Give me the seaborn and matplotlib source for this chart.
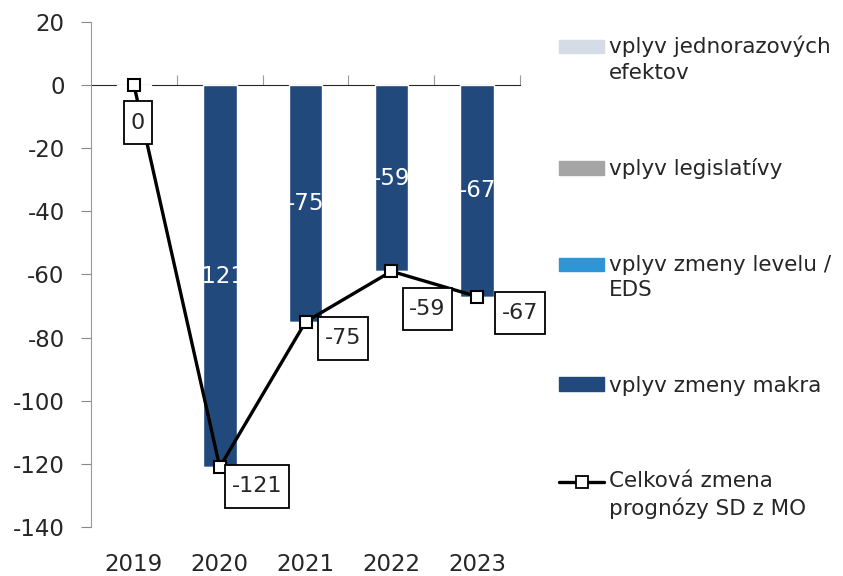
import numpy as np
import matplotlib.pyplot as plt
import seaborn as sns
from matplotlib.patches import Patch
from matplotlib.lines import Line2D
from matplotlib.path import Path
from matplotlib.legend_handler import HandlerPatch, HandlerLine2D

roky = ["2019", "2020", "2021", "2022", "2023"]
makro = [-0.2, -121, -75, -59, -67]
level_eds = [0, -0.4, -0.4, -0.3, -0.4]
legislativa = [0, 0, 0, 0, 0]
jednorazove = [0, 0, 0, 0, 0]
celkova_zmena = [0, -121, -75, -59, -67]

farby = {
    "jednorazove": "#D6DCE5",
    "legislativa": "#A5A5A5",
    "level": "#2E96D6",
    "makro": "#21497C",
}

# posuny popisov celkovej zmeny (v bodoch)
posuny = [(3, -27), (27, -14), (27, -12), (26, -27), (31, -12)]


def ramcek(x0, y0, width, height, mutation_size):
    """Obdlznik s vacsim zvislym okrajom ako vodorovnym."""
    px = 0.3 * mutation_size
    py = 0.5 * mutation_size
    x0, y0 = x0 - px, y0 - py
    x1, y1 = x0 + width + 2 * px, y0 + height + 2 * py
    return Path([(x0, y0), (x1, y0), (x1, y1), (x0, y1), (x0, y0)],
                closed=True)


class PatchHore(HandlerPatch):
    """Znacka legendy zarovnana na prvy riadok popisu."""
    def __init__(self, posun=0.0, **kw):
        super().__init__(**kw)
        self.posun = posun

    def create_artists(self, legend, orig_handle, xdescent, ydescent,
                       width, height, fontsize, trans):
        arts = super().create_artists(legend, orig_handle, xdescent, ydescent,
                                       width, height, fontsize, trans)
        for a in arts:
            a.set_y(a.get_y() + self.posun * fontsize)
        return arts


class CiaraHore(HandlerLine2D):
    def __init__(self, posun=0.0, **kw):
        super().__init__(**kw)
        self.posun = posun

    def create_artists(self, legend, orig_handle, xdescent, ydescent,
                       width, height, fontsize, trans):
        arts = super().create_artists(legend, orig_handle, xdescent, ydescent,
                                      width, height, fontsize, trans)
        for a in arts:
            a.set_ydata(np.asarray(a.get_ydata()) + self.posun * fontsize)
        return arts


sns.set_style("white")
plt.rcParams["font.family"] = ["DejaVu Sans"]
plt.rcParams["axes.unicode_minus"] = False

fig = plt.figure(figsize=(8.43, 5.76), dpi=100)
ax = fig.add_axes([0.108, 0.085, 0.509, 0.877])

x = np.arange(len(roky))
sirka = 0.39

sns.barplot(x=roky, y=makro, color=farby["makro"], width=sirka,
            saturation=1, ax=ax, zorder=2)
spodok = np.array(makro, dtype=float)
for hodnoty, kluc in [(level_eds, "level"), (legislativa, "legislativa"),
                      (jednorazove, "jednorazove")]:
    ax.bar(x, hodnoty, bottom=spodok, width=sirka, color=farby[kluc], zorder=2)
    spodok = spodok + np.array(hodnoty)

# biele popisy v strede stlpcov
for i, v in enumerate(makro):
    if abs(v) >= 1:
        ax.text(i, v / 2, f"{v:.0f}", color="white", ha="center", va="center",
                fontsize=16.5, zorder=3)

sns.lineplot(x=x, y=celkova_zmena, color="black", lw=2.4, marker="s",
             markersize=9, markerfacecolor="white", markeredgecolor="black",
             markeredgewidth=1.5, sort=False, ax=ax, zorder=4)

for i, v in enumerate(celkova_zmena):
    ax.annotate(f"{v:.0f}", xy=(i, v), xytext=posuny[i],
                textcoords="offset points", ha="center", va="center",
                fontsize=16, zorder=5,
                bbox=dict(boxstyle=ramcek, fc="white", ec="black", lw=1.3))

ax.set_xlim(-0.5, 4.5)
ax.set_ylim(-140, 20)
ax.set_yticks(np.arange(-140, 21, 20))
ax.tick_params(axis="y", labelsize=16.5, length=7, width=0.8,
               color="#888888", direction="out", left=True, pad=12)
ax.tick_params(axis="x", labelsize=16.5, length=0, pad=19)
for s in ["top", "right", "bottom"]:
    ax.spines[s].set_visible(False)
ax.spines["left"].set_color("#999999")
ax.spines["left"].set_linewidth(0.8)
ax.set_xlabel("")
ax.set_ylabel("")

# os x na nule so znackami medzi kategoriami
nula = ax.secondary_xaxis(0.875)
nula.set_xticks(np.arange(0.5, 5, 1))
nula.set_xticklabels([])
nula.tick_params(length=7, width=0.8, color="#999999", direction="out")
nula.spines["bottom"].set_color("#999999")
nula.spines["bottom"].set_linewidth(0.8)

handles = [
    Patch(color=farby["jednorazove"]),
    Patch(color=farby["legislativa"]),
    Patch(color=farby["level"]),
    Patch(color=farby["makro"]),
    Line2D([], [], color="black", lw=2.4, marker="s", markersize=8,
           markerfacecolor="white", markeredgecolor="black",
           markeredgewidth=1.3),
]
labels = [
    "vplyv jednorazových\nefektov",
    "vplyv legislatívy",
    "vplyv zmeny levelu /\nEDS",
    "vplyv zmeny makra",
    "Celková zmena\nprognózy SD z MO",
]
posun_riadku = 0.62
mapa = {
    handles[0]: PatchHore(posun_riadku),
    handles[1]: PatchHore(0),
    handles[2]: PatchHore(posun_riadku),
    handles[3]: PatchHore(0),
    handles[4]: CiaraHore(posun_riadku),
}
leg = fig.legend(handles, labels, loc="upper left", handler_map=mapa,
                 bbox_to_anchor=(0.653, 0.953), frameon=False, fontsize=15.5,
                 handlelength=2.1, handleheight=0.6, handletextpad=0.2,
                 labelspacing=3.5, borderaxespad=0)
for t in leg.get_texts():
    t.set_linespacing(1.36)

fig.savefig("out.png", dpi=100)
